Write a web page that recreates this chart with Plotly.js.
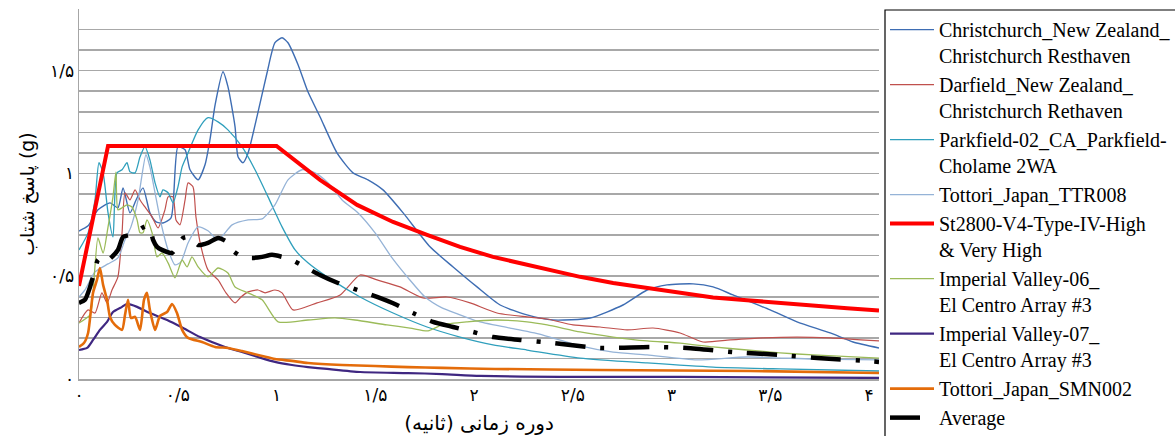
<!DOCTYPE html>
<html><head><meta charset="utf-8">
<script src="https://cdn.plot.ly/plotly-3.0.1.min.js"></script>
<style>html,body{margin:0;padding:0;background:#fff;}#chart{width:1175px;height:436px;}</style>
</head><body><div id="chart"></div><script>
// Periods (s) and spectral accelerations (g)
const christchurchT = [0,0.046,0.096,0.157,0.197,0.223,0.258,0.289,0.324,0.359,0.39,0.425,0.466,0.501,0.537,0.562,0.603,0.638,0.663,0.689,0.729,0.754,0.79,0.805,0.83,0.856,0.901,0.952,0.992,1.028,1.058,1.109,1.159,1.22,1.306,1.387,1.463,1.539,1.641,1.777,1.894,2.015,2.132,2.268,2.4,2.587,2.754,2.876,2.977,3.109,3.21,3.311,3.499,3.635,3.803,3.919,4.05];
const christchurchSa = [0.72,0.745,0.823,0.857,0.833,0.93,0.808,0.871,0.93,0.808,0.764,0.759,0.784,1.13,1.115,1.018,0.969,1.042,1.164,1.334,1.495,1.422,1.227,1.081,1.052,1.1,1.276,1.49,1.636,1.66,1.636,1.529,1.397,1.276,1.1,1.003,0.969,0.92,0.808,0.643,0.545,0.448,0.36,0.312,0.287,0.297,0.36,0.433,0.458,0.463,0.448,0.409,0.336,0.278,0.224,0.18,0.151];

const darfieldT = [0,0.046,0.081,0.116,0.142,0.167,0.197,0.218,0.233,0.258,0.284,0.309,0.334,0.37,0.4,0.435,0.451,0.476,0.491,0.511,0.537,0.552,0.577,0.592,0.618,0.653,0.704,0.744,0.79,0.82,0.856,0.906,0.942,0.992,1.028,1.084,1.205,1.322,1.423,1.509,1.625,1.742,1.863,1.98,2.116,2.268,2.37,2.501,2.638,2.775,2.906,3.043,3.159,3.296,3.463,3.635,3.803,4.05];
const darfieldSa = [0.273,0.336,0.321,0.419,0.37,0.433,0.497,0.711,0.906,0.871,0.92,0.871,0.837,0.789,0.735,0.823,0.886,0.886,0.774,0.75,0.871,0.954,0.935,0.789,0.643,0.531,0.482,0.419,0.37,0.399,0.424,0.433,0.419,0.433,0.419,0.336,0.37,0.409,0.506,0.482,0.448,0.394,0.399,0.37,0.321,0.302,0.292,0.263,0.253,0.239,0.248,0.224,0.18,0.19,0.2,0.204,0.2,0.185];

const parkfieldT = [0,0.046,0.081,0.101,0.122,0.147,0.172,0.192,0.218,0.243,0.258,0.284,0.309,0.334,0.359,0.385,0.41,0.425,0.451,0.476,0.501,0.522,0.552,0.603,0.653,0.704,0.754,0.825,0.891,0.957,1.028,1.094,1.159,1.256,1.423,1.59,1.762,1.929,2.096,2.268,2.537,2.876,3.21,3.549,4.05];
const parkfieldSa = [0.628,0.711,0.871,1.052,1.003,0.808,0.691,1.003,1.018,1.052,1.008,1.003,1.081,1.13,1.066,0.954,0.886,0.92,0.906,0.857,0.935,1.032,1.1,1.212,1.271,1.251,1.212,1.13,1.018,0.886,0.74,0.628,0.565,0.497,0.399,0.321,0.253,0.204,0.166,0.141,0.102,0.078,0.058,0.049,0.039];

const ttr008T = [0,0.03,0.081,0.147,0.197,0.233,0.263,0.299,0.339,0.359,0.385,0.415,0.451,0.486,0.516,0.552,0.603,0.653,0.704,0.775,0.856,0.927,0.992,1.058,1.129,1.195,1.261,1.332,1.413,1.499,1.585,1.666,1.752,1.838,1.919,2.015,2.182,2.349,2.537,2.704,2.876,3.129,3.382,3.716,4.05];
const ttr008Sa = [0.399,0.433,0.521,0.56,0.589,0.677,0.74,0.871,1.091,1.032,0.906,0.759,0.628,0.555,0.57,0.662,0.74,0.721,0.677,0.75,0.774,0.779,0.847,0.969,1.018,1.003,0.954,0.871,0.808,0.711,0.589,0.492,0.399,0.346,0.316,0.282,0.248,0.214,0.161,0.131,0.117,0.093,0.107,0.097,0.093];

const st2800T = [0,0.147,1.0,1.22,1.408,1.59,1.762,1.929,2.096,2.268,2.435,2.537,2.704,2.876,3.043,3.21,3.382,3.549,3.716,3.889,4.05];
const st2800Sa = [0.453,1.134,1.134,0.969,0.847,0.764,0.701,0.643,0.594,0.555,0.516,0.497,0.467,0.443,0.419,0.397,0.383,0.369,0.356,0.344,0.333];

const iv06T = [0,0.056,0.071,0.096,0.122,0.147,0.172,0.187,0.197,0.218,0.243,0.268,0.294,0.309,0.324,0.344,0.37,0.395,0.42,0.451,0.486,0.522,0.547,0.572,0.603,0.653,0.704,0.754,0.79,0.856,0.927,1.008,1.159,1.296,1.397,1.559,1.676,1.767,1.838,1.965,2.106,2.268,2.37,2.537,2.704,2.876,3.043,3.21,3.382,3.549,3.716,4.05];
const iv06Sa = [0.273,0.312,0.419,0.686,0.613,0.74,0.886,1.008,0.823,0.833,0.847,0.837,0.774,0.711,0.711,0.774,0.711,0.594,0.613,0.565,0.492,0.579,0.545,0.594,0.545,0.497,0.54,0.516,0.448,0.419,0.385,0.278,0.287,0.297,0.287,0.263,0.248,0.234,0.263,0.278,0.287,0.278,0.263,0.229,0.204,0.185,0.175,0.156,0.141,0.127,0.117,0.102];

const iv07T = [0,0.041,0.071,0.106,0.142,0.172,0.218,0.243,0.294,0.359,0.446,0.527,0.613,0.739,0.825,0.906,0.992,1.078,1.159,1.256,1.423,1.666,1.838,2.03,2.435,3.043,4.05];
const iv07Sa = [0.141,0.151,0.19,0.239,0.278,0.326,0.351,0.365,0.351,0.321,0.287,0.248,0.204,0.156,0.131,0.107,0.083,0.068,0.058,0.049,0.034,0.029,0.024,0.015,0.01,0.01,0.005];

const smn002T = [0,0.025,0.046,0.071,0.091,0.106,0.122,0.142,0.157,0.182,0.218,0.233,0.248,0.263,0.284,0.309,0.329,0.344,0.359,0.385,0.41,0.446,0.471,0.496,0.522,0.552,0.623,0.689,0.754,0.825,0.927,0.992,1.078,1.159,1.332,1.499,1.666,1.838,2.106,2.638,3.397,4.05];
const smn002Sa = [0.156,0.175,0.224,0.419,0.482,0.54,0.458,0.385,0.302,0.263,0.239,0.312,0.385,0.297,0.302,0.239,0.385,0.419,0.336,0.239,0.307,0.326,0.365,0.321,0.239,0.2,0.18,0.156,0.151,0.136,0.112,0.097,0.088,0.078,0.068,0.063,0.058,0.054,0.049,0.044,0.039,0.029];

const averageT = [0,0.03,0.056,0.071,0.096,0.122,0.147,0.197,0.223,0.258,0.284,0.319,0.344,0.359,0.375,0.395,0.42,0.471,0.496,0.527,0.562,0.603,0.653,0.704,0.749,0.775,0.825,0.876,0.927,0.977,1.028,1.078,1.144,1.22,1.311,1.408,1.509,1.61,1.691,1.792,1.894,1.995,2.096,2.233,2.4,2.638,2.891,3.078,3.311,3.549,3.737,3.98,4.05];
const averageSa = [0.37,0.385,0.448,0.497,0.579,0.594,0.579,0.628,0.691,0.701,0.711,0.735,0.745,0.735,0.677,0.643,0.628,0.613,0.643,0.686,0.691,0.652,0.662,0.686,0.667,0.628,0.594,0.589,0.594,0.604,0.594,0.579,0.545,0.506,0.467,0.433,0.399,0.36,0.321,0.278,0.253,0.229,0.204,0.19,0.175,0.151,0.156,0.151,0.131,0.117,0.102,0.088,0.083];

const seriesNames = [
  'Christchurch_New Zealand_<br>Christchurch Resthaven',
  'Darfield_New Zealand_<br>Christchurch Rethaven',
  'Parkfield-02_CA_Parkfield-<br>Cholame 2WA',
  'Tottori_Japan_TTR008',
  'St2800-V4-Type-IV-High<br>& Very High',
  'Imperial Valley-06_<br>El Centro Array #3',
  'Imperial Valley-07_<br>El Centro Array #3',
  'Tottori_Japan_SMN002',
  'Average'
];

const xTickVals = [0,0.5,1,1.5,2,2.5,3,3.5,4];
const xTickText = ['۰','۰/۵','۱','۱/۵','۲','۲/۵','۳','۳/۵','۴'];
const yTickVals = [0,0.1,0.2,0.3,0.4,0.5,0.6,0.7,0.8,0.9,1.0,1.1,1.2,1.3,1.4,1.5,1.6,1.7,1.8];
const yTickText = ['۰','','','','','۰/۵','','','','','۱','','','','','۱/۵','','',''];

const xs = [christchurchT, darfieldT, parkfieldT, ttr008T, st2800T, iv06T, iv07T, smn002T, averageT];
const ys = [christchurchSa, darfieldSa, parkfieldSa, ttr008Sa, st2800Sa, iv06Sa, iv07Sa, smn002Sa, averageSa];
const styles = [
  {color:'#3e6db3', width:1.4, shape:'spline'},
  {color:'#c0504d', width:1.2, shape:'spline'},
  {color:'#2f9fbc', width:1.3, shape:'spline'},
  {color:'#95b3d7', width:1.3, shape:'spline'},
  {color:'#ff0000', width:4, shape:'linear'},
  {color:'#9bbb59', width:1.3, shape:'spline'},
  {color:'#3f2781', width:2.2, shape:'spline'},
  {color:'#e46c0a', width:2.6, shape:'spline'},
  {color:'#000000', width:4.5, shape:'spline', dash:'30px,15px,4px,15px'}
];

const traces = seriesNames.map((n,i) => ({
  type:'scatter', mode:'lines', name:n, x:xs[i], y:ys[i],
  line:Object.assign({smoothing:0.6}, styles[i]),
  hoverinfo:'skip'
}));

const serif = 'Liberation Serif, Times New Roman, serif';
const farsi = 'DejaVu Sans, Noto Sans, sans-serif';

const layout = {
  width:1175, height:436,
  margin:{l:79, r:296, t:9, b:57, autoexpand:false},
  paper_bgcolor:'#ffffff', plot_bgcolor:'#ffffff',
  showlegend:true,
  xaxis:{
    range:[0,4.05], tickmode:'array', tickvals:xTickVals, ticktext:xTickText,
    showgrid:false, zeroline:false, showline:true, linecolor:'#a6a6a6', linewidth:1.5,
    ticks:'', tickfont:{family:farsi, size:17, color:'#000'},
    title:{text:'دوره زمانی (ثانیه)', font:{family:farsi, size:20, color:'#000'}, standoff:12}
  },
  yaxis:{
    range:[0,1.8], tickmode:'array', tickvals:yTickVals, ticktext:yTickText,
    showgrid:true, gridcolor:'#a8a8a8', gridwidth:1.5, zeroline:false,
    showline:true, linecolor:'#a6a6a6', linewidth:1.5,
    ticks:'', tickfont:{family:farsi, size:17, color:'#000'},
    title:{text:'پاسخ شتاب (g)', font:{family:farsi, size:19, color:'#000'}, standoff:10}
  },
  legend:{
    x:1.0075, xanchor:'left', y:0.997, yanchor:'top',
    font:{family:serif, size:20, color:'#000'},
    valign:'top', bgcolor:'rgba(0,0,0,0)', borderwidth:0, itemwidth:44,
    tracegroupgap:0, maxheight:2000
  },
  shapes:[{type:'rect', xref:'paper', yref:'paper', x0:1.0075, x1:1.6, y0:-0.4, y1:0.9973,
    line:{color:'#000', width:1.2}, fillcolor:'rgba(0,0,0,0)', layer:'above'}]
};

Plotly.newPlot('chart', traces, layout, {staticPlot:true, displayModeBar:false});
</script></body></html>
